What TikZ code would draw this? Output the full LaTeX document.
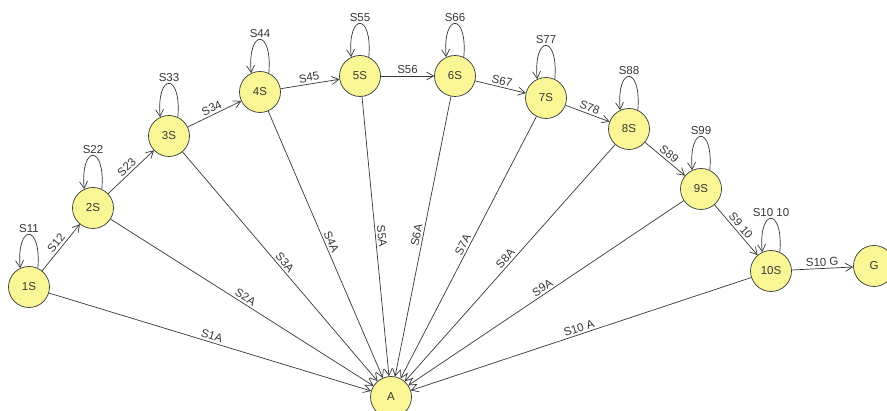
\documentclass[tikz,border=0pt]{standalone}
\usepackage{fontspec}
\setmainfont{Liberation Sans}
\usetikzlibrary{arrows.meta}
\definecolor{nodefill}{RGB}{250,246,150}
\definecolor{ink}{RGB}{55,55,55}
\tikzset{
  st/.style={circle, draw=ink, fill=nodefill, minimum size=41pt, inner sep=0pt,
    font=\fontsize{11.5}{13}\selectfont, text=ink, line width=0.7pt},
  tr/.style={draw=ink, line width=0.7pt, -{Straight Barb[length=7pt,width=8pt]}},
  lb/.style={font=\fontsize{11.5}{13}\selectfont, text=ink, sloped, auto, inner sep=2pt},
  lp/.style={font=\fontsize{11.5}{13}\selectfont, text=ink, above, inner sep=1.5pt},
}
\begin{document}
\begin{tikzpicture}[x=1pt,y=-1pt]
\clip (0,0) rectangle (887,411);
\fill[white] (0,0) rectangle (887,411);
% states
\node[st] (s1)  at (29,287)  {1S};
\node[st] (s2)  at (93,208)  {2S};
\node[st] (s3)  at (169,136) {3S};
\node[st] (s4)  at (260,92)  {4S};
\node[st] (s5)  at (360,76)  {5S};
\node[st] (s6)  at (455,76)  {6S};
\node[st] (s7)  at (546,98)  {7S};
\node[st] (s8)  at (629,129) {8S};
\node[st] (s9)  at (701,189) {9S};
\node[st] (s10) at (771,271) {10S};
\node[st] (g)   at (874,266) {G};
\node[st] (a)   at (391,397) {A};
% self loops
\foreach \n/\t in {s1/S11, s2/S22, s3/S33, s4/S44, s5/S55, s6/S66, s7/S77, s8/S88, s9/S99, s10/S10 10}{
  \draw[tr] (\n.65) .. controls +(85:45pt) and +(95:45pt) .. node[lp] {\t} (\n.115);
}
% chain
\draw[tr] (s1) -- node[lb] {S12} (s2);
\draw[tr] (s2) -- node[lb] {S23} (s3);
\draw[tr] (s3) -- node[lb] {S34} (s4);
\draw[tr] (s4) -- node[lb] {S45} (s5);
\draw[tr] (s5) -- node[lb] {S56} (s6);
\draw[tr] (s6) -- node[lb] {S67} (s7);
\draw[tr] (s7) -- node[lb] {S78} (s8);
\draw[tr] (s8) -- node[lb] {S89} (s9);
\draw[tr] (s9) -- node[lb] {S9 10} (s10);
\draw[tr] (s10) -- node[lb] {S10 G} (g);
% to A
\draw[tr] (s1) -- node[lb] {S1A} (a);
\draw[tr] (s2) -- node[lb] {S2A} (a);
\draw[tr] (s3) -- node[lb] {S3A} (a);
\draw[tr] (s4) -- node[lb] {S4A} (a);
\draw[tr] (s5) -- node[lb] {S5A} (a);
\draw[tr] (s6) -- node[lb] {S6A} (a);
\draw[tr] (s7) -- node[lb] {S7A} (a);
\draw[tr] (s8) -- node[lb] {S8A} (a);
\draw[tr] (s9) -- node[lb] {S9A} (a);
\draw[tr] (s10) -- node[lb] {S10 A} (a);
\end{tikzpicture}
\end{document}
